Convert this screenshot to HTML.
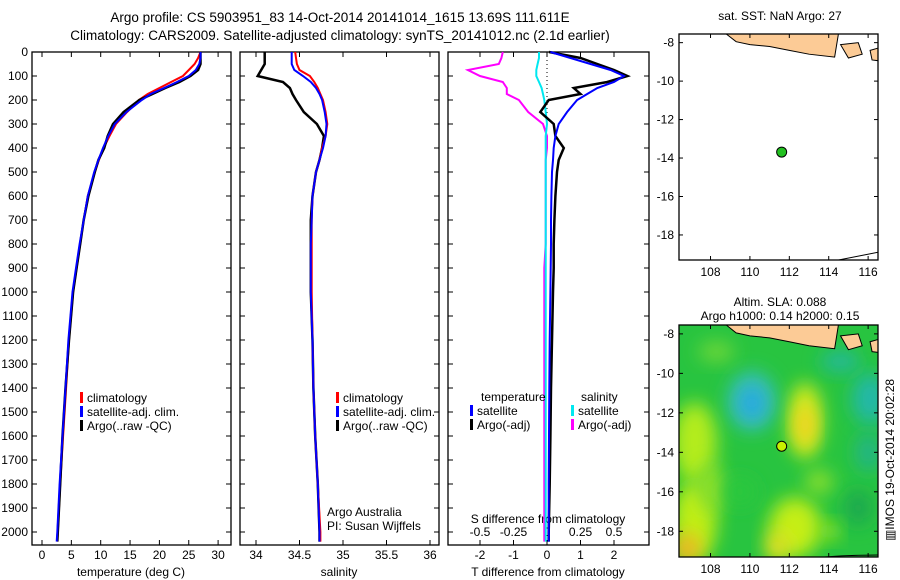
<!DOCTYPE html>
<html><head><meta charset="utf-8">
<style>
html,body{margin:0;padding:0;background:#fff;}
svg{display:block;font-family:"Liberation Sans",sans-serif;}
</style></head>
<body>
<svg id="fig" width="900" height="580" viewBox="0 0 900 580" xmlns="http://www.w3.org/2000/svg">
<text x="340" y="22" font-size="13.5" text-anchor="middle">Argo profile: CS 5903951_83 14-Oct-2014 20141014_1615 13.69S 111.611E</text>
<text x="340" y="40" font-size="13.5" text-anchor="middle">Climatology: CARS2009. Satellite-adjusted climatology: synTS_20141012.nc (2.1d earlier)</text>
<g id="g"></g>
</svg>
<script>
// ---- data ----
const depths = [0,25,50,75,100,125,150,175,200,250,300,350,400,450,500,600,700,800,900,1000,1200,1400,1600,1800,2000,2040];
const tempClim = [27,26.6,26,25,24,22,20,18,16.5,14.5,12.6,11.5,10.5,9.7,9,7.8,7.1,6.5,5.9,5.3,4.6,4.1,3.6,3.1,2.7,2.6];
const tempSat  = [27,27,26.8,26.2,25,23,20.8,18.5,17,14.4,12.4,11.3,10.4,9.6,8.9,7.8,7.1,6.4,5.8,5.2,4.5,4.0,3.5,3.0,2.6,2.5];
const tempArgo = [27,27,27,26.6,25.3,23.4,21,18.8,16.6,13.9,12.1,11.2,10.6,9.6,9.0,7.9,7.1,6.5,5.9,5.3,4.6,4.0,3.5,3.1,2.7,2.6];
const salClim = [34.45,34.46,34.47,34.5,34.62,34.67,34.71,34.74,34.77,34.8,34.82,34.8,34.76,34.73,34.69,34.65,34.64,34.64,34.64,34.64,34.65,34.66,34.68,34.71,34.74,34.74];
const salSat  = [34.41,34.41,34.41,34.44,34.54,34.63,34.69,34.73,34.76,34.79,34.81,34.8,34.77,34.73,34.69,34.65,34.64,34.63,34.63,34.63,34.65,34.66,34.68,34.71,34.73,34.73];
const salArgo = [34.1,34.1,34.1,34.06,34.02,34.31,34.39,34.42,34.46,34.55,34.7,34.78,34.76,34.73,34.69,34.65,34.63,34.63,34.63,34.63,34.65,34.66,34.68,34.71,34.73,34.73];
const tdiffSat  = [0.1,0.7,1.3,1.9,2.3,2.0,1.5,1.2,0.9,0.6,0.35,0.25,0.2,0.18,0.15,0.13,0.12,0.12,0.11,0.1,0.08,0.07,0.06,0.05,0.05,0.05];
const tdiffArgo = [0.06,1.0,1.5,2.0,2.4,1.8,0.8,1.0,0.05,-0.2,0.2,0.25,0.5,0.35,0.3,0.25,0.22,0.2,0.2,0.18,0.15,0.12,0.1,0.08,0.05,0.05];
const sdiffSat  = [-0.06,-0.06,-0.07,-0.08,-0.08,-0.06,-0.04,-0.03,-0.02,-0.01,0,-0.01,-0.01,-0.01,-0.01,-0.01,-0.01,-0.01,-0.01,-0.01,-0.01,-0.01,-0.01,-0.01,-0.01,-0.01];
const sdiffArgo = [-0.33,-0.34,-0.36,-0.59,-0.5,-0.33,-0.3,-0.3,-0.21,-0.14,-0.03,0,0,-0.01,-0.01,-0.01,-0.01,-0.01,-0.02,-0.02,-0.02,-0.02,-0.02,-0.02,-0.02,-0.02];
const depthTicks = [0,100,200,300,400,500,600,700,800,900,1000,1100,1200,1300,1400,1500,1600,1700,1800,1900,2000];
const tempTicks = [0,5,10,15,20,25,30];
const salTicks = [34,34.5,35,35.5,36];
const tdTicks = [-2,-1,0,1,2];
const sdTicks = [-0.5,-0.25,0,0.25,0.5];
const lonTicks = [108,110,112,114,116];
const latTicks = [-8,-10,-12,-14,-16,-18];
const argoLon = 111.611, argoLat = -13.69;

const NS='http://www.w3.org/2000/svg';
const G=document.getElementById('g');
function el(t,a,p){const e=document.createElementNS(NS,t);for(const k in a)e.setAttribute(k,a[k]);(p||G).appendChild(e);return e;}
function txt(x,y,s,a,p){const e=el('text',Object.assign({x:x,y:y,'font-size':12},a||{}),p);e.textContent=s;return e;}
const yD=d=>52+d*0.24;
const xT=v=>42+v*5.87;
const xS=v=>256+(v-34)*87;
const xTD=v=>547+v*33.5;
const xSD=v=>547+v*134;

function box(x0,x1,name){
  const r=el('rect',{x:x0,y:52,width:x1-x0,height:493,fill:'none',stroke:'#000','stroke-width':1.3});
  
  
}
function line(xs,fx,color,name,w){
  let d='';xs.forEach((v,i)=>{d+=(i?'L':'M')+fx(v).toFixed(1)+','+yD(depths[i]).toFixed(1);});
  const p=el('path',{d:d,fill:'none',stroke:color,'stroke-width':w||2});
  
  
}
box(32,231,'temperature-panel');box(240,439,'salinity-panel');box(448,649,'difference-panel');
depthTicks.forEach(d=>{
  const t=txt(28,yD(d)+4,String(d),{'text-anchor':'end'});
  
  
  [[32,231],[240,439],[448,649]].forEach(([a,b])=>{el('line',{x1:a,x2:a+5,y1:yD(d),y2:yD(d),stroke:'#000'});el('line',{x1:b-5,x2:b,y1:yD(d),y2:yD(d),stroke:'#000'});});
});
function xticks(ticks,fx,lab){
  ticks.forEach(v=>{
    el('line',{x1:fx(v),x2:fx(v),y1:545,y2:540,stroke:'#000'});el('line',{x1:fx(v),x2:fx(v),y1:52,y2:57,stroke:'#000'});
    const t=txt(fx(v),559,String(v),{'text-anchor':'middle'});
    
    
  });
}
xticks(tempTicks,xT,'temp-tick-label');xticks(salTicks,xS,'salinity-tick-label');xticks(tdTicks,xTD,'tdiff-tick-label');
sdTicks.forEach(v=>{const t=txt(xSD(v),536,String(v),{'text-anchor':'middle'});});
let a;
a=txt(131,576,'temperature (deg C)',{'text-anchor':'middle'});
a=txt(339,576,'salinity',{'text-anchor':'middle'});
a=txt(548,576,'T difference from climatology',{'text-anchor':'middle'});
a=txt(548,523,'S difference from climatology',{'text-anchor':'middle'});
el('line',{x1:547,x2:547,y1:52,y2:115,stroke:'#000','stroke-dasharray':'1,3'});
line(tempClim,xT,'#ff0000','temp-climatology-line');line(tempArgo,xT,'#000','temp-argo-line',2.5);line(tempSat,xT,'#0000ff','temp-satellite-line');
line(salArgo,xS,'#000','salinity-argo-line',2.5);line(salClim,xS,'#ff0000','salinity-climatology-line');line(salSat,xS,'#0000ff','salinity-satellite-line');
line(sdiffArgo,xSD,'#ff00ff','sdiff-argo-line');line(sdiffSat,xSD,'#00e8f0','sdiff-satellite-line');
line(tdiffArgo,xTD,'#000','tdiff-argo-line',2.5);line(tdiffSat,xTD,'#0000ff','tdiff-satellite-line');
function leg(x,y,c,s,n){el('rect',{x:x,y:y-10,width:3,height:11,fill:c});const t=txt(x+7,y,s);}
[[32+48,'temp'],[240+96,'sal']].forEach(([x,p])=>{leg(x,402,'#ff0000','climatology',p+'-legend-climatology');leg(x,416,'#0000ff','satellite-adj. clim.',p+'-legend-satellite');leg(x,430,'#000','Argo(..raw -QC)',p+'-legend-argo');});
a=txt(481,401,'temperature');
a=txt(581,401,'salinity');
leg(470,415,'#0000ff','satellite','tdiff-legend-satellite');leg(470,429,'#000','Argo(-adj)','tdiff-legend-argo');
leg(571,415,'#00e8f0','satellite','sdiff-legend-satellite');leg(571,429,'#ff00ff','Argo(-adj)','sdiff-legend-argo');
a=txt(327,516,'Argo Australia');
a=txt(327,530,'PI: Susan Wijffels');

function map(top,bot,name,sla){
  const x0=679,x1=878;
  const fx=l=>x0+(l-106.4)*19.7, fy=la=>top+(-7.55-la)*19.4*(bot-top)/(228);
  const gm=el('g',{});
  const cid='c'+top;const cp=el('clipPath',{id:cid},gm);el('rect',{x:x0,y:top,width:x1-x0,height:bot-top},cp);
  const inner=el('g',{'clip-path':'url(#'+cid+')'},gm);
  if(sla){
    el('rect',{x:x0,y:top,width:x1-x0,height:bot-top,fill:'#28c440'},inner);
    const f=el('filter',{id:'bl',x:'-60%',y:'-60%',width:'220%',height:'220%'},gm);el('feGaussianBlur',{stdDeviation:9},f);
    const blobs=[
      [107.2,-13.5,22,40,'#b4ec1c'],[107.2,-17.5,22,40,'#c0ee18'],[106.8,-18.9,14,16,'#f0b820'],
      [108,-15.8,14,24,'#8ee02a'],
      [112.3,-17.8,26,30,'#c4ee18'],[111.4,-18.8,12,16,'#e8e020'],
      [112.8,-12.4,17,38,'#d4ec1c'],[112.8,-12.6,9,20,'#f4d020'],
      [110.1,-11.4,24,30,'#38c0b0'],[110.1,-11.5,13,17,'#28a8e4'],
      [116.1,-11.3,18,26,'#20b8a8'],[116.0,-14.0,12,20,'#22b48a'],
      [114.6,-9.4,20,10,'#22b8a0'],[108.3,-8.9,18,10,'#70d838'],
      [115.5,-16.8,14,18,'#1aa850'],[114.1,-18,8,8,'#b8ec18'],[109.5,-16,16,14,'#2cc83e'],
      [113.5,-15.5,14,12,'#8ee02a']];
    blobs.forEach(b=>el('ellipse',{cx:fx(b[0]),cy:fy(b[1]),rx:b[2],ry:b[3],fill:b[4],filter:'url(#bl)'},inner));
  } else el('rect',{x:x0,y:top,width:x1-x0,height:bot-top,fill:'#fff'},inner);
  el('path',{d:`M${fx(108.8)},${top} L${fx(109.3)},${fy(-7.95)} L${fx(110)},${fy(-8.1)} L${fx(111)},${fy(-8.2)} L${fx(112)},${fy(-8.4)} L${fx(113)},${fy(-8.6)} L${fx(114.3)},${fy(-8.75)} L${fx(114.5)},${fy(-7.5)} Z`,fill:'#fccb96',stroke:'#000','stroke-width':1},inner);
  el('path',{d:`M${fx(114.6)},${fy(-8.1)} L${fx(115.5)},${fy(-8.0)} L${fx(115.7)},${fy(-8.6)} L${fx(115.0)},${fy(-8.8)} Z`,fill:'#fccb96',stroke:'#000'},inner);
  el('path',{d:`M${fx(116.1)},${fy(-8.4)} L${fx(116.8)},${fy(-8.2)} L${fx(117)},${fy(-9)} L${fx(116.2)},${fy(-8.9)} Z`,fill:'#fccb96',stroke:'#000'},inner);
  if(sla) el('path',{d:`M${fx(113.8)},${bot} Q${fx(115)},${fy(-19.2)} ${fx(117)},${fy(-19.2)}`,fill:'none',stroke:'#000'},inner);
  else el('path',{d:`M${fx(114.5)},${bot} Q${fx(115.5)},${fy(-19.1)} ${fx(117)},${fy(-18.8)}`,fill:'none',stroke:'#000'},inner);
  el('rect',{x:x0,y:top,width:x1-x0,height:bot-top,fill:'none',stroke:'#000','stroke-width':1.3},gm);
  lonTicks.forEach(l=>{el('line',{x1:fx(l),x2:fx(l),y1:top,y2:top+4,stroke:'#000'},gm);el('line',{x1:fx(l),x2:fx(l),y1:bot,y2:bot-4,stroke:'#000'},gm);txt(fx(l),bot+16,String(l),{'text-anchor':'middle'},gm);});
  latTicks.forEach(l=>{el('line',{x1:x0,x2:x0+4,y1:fy(l),y2:fy(l),stroke:'#000'},gm);el('line',{x1:x1,x2:x1-4,y1:fy(l),y2:fy(l),stroke:'#000'},gm);txt(x0-5,fy(l)+4,String(l),{'text-anchor':'end'},gm);});
  const m=el('circle',{cx:fx(argoLon),cy:fy(argoLat),r:5,fill:sla?'#c8f000':'#22c020',stroke:'#000'},gm);
  
  
}
map(34,260,'sst-map',false);
map(325,557,'sla-map',true);
a=txt(780,20,'sat. SST: NaN Argo: 27',{'text-anchor':'middle'});
a=txt(780,306,'Altim. SLA: 0.088',{'text-anchor':'middle'});
a=txt(780,320,'Argo h1000: 0.14 h2000: 0.15',{'text-anchor':'middle'});
a=txt(0,0,'\u25A5IMOS 19-Oct-2014 20:02:28',{'text-anchor':'middle',transform:'translate(894,460) rotate(-90)'});
</script>
</body></html>
